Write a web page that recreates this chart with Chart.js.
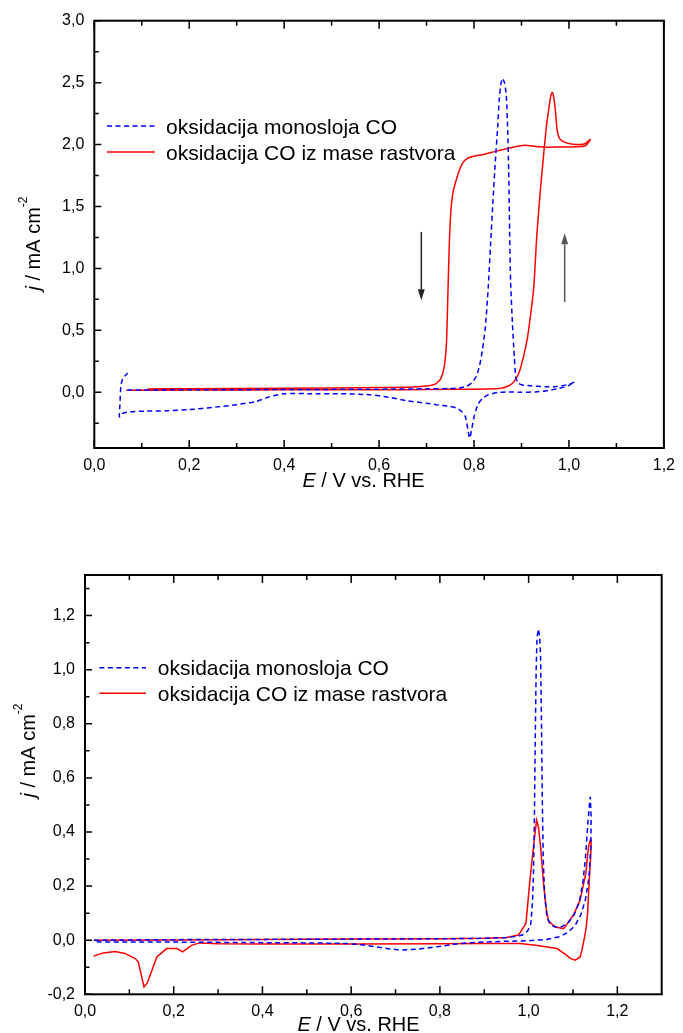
<!DOCTYPE html>
<html>
<head>
<meta charset="utf-8">
<script src="https://cdn.jsdelivr.net/npm/chart.js@4.4.1/dist/chart.umd.min.js"></script>
<style>
  html, body { margin: 0; padding: 0; background: #fff; }
  canvas { position: absolute; left: 0; }
  #top { top: 0; width: 683px; height: 545px; }
  #bottom { top: 545px; width: 683px; height: 488px; }
</style>
</head>
<body>
<canvas id="top" width="683" height="545"></canvas>
<canvas id="bottom" width="683" height="488"></canvas>
<script>
// series labels
const labelMono = "oksidacija monosloja CO";
const labelBulk = "oksidacija CO iz mase rastvora";

// upper panel, monolayer CO (dashed blue)
const topMonoE = [0.070, 0.200, 0.400, 0.600, 0.700, 0.750, 0.770, 0.785, 0.795, 0.805,
  0.812, 0.818, 0.824, 0.830, 0.835, 0.840, 0.845, 0.850, 0.853, 0.857,
  0.860, 0.864, 0.868, 0.871, 0.873, 0.875, 0.877, 0.881, 0.885, 0.888,
  0.893, 0.900, 0.920, 0.950, 0.975, 0.995, 1.005, 1.012,
  1.000, 0.977, 0.950, 0.930, 0.900, 0.873, 0.850, 0.830, 0.818, 0.808,
  0.800, 0.795, 0.791, 0.787, 0.782, 0.775, 0.765, 0.750, 0.720, 0.700,
  0.660, 0.620, 0.580, 0.520, 0.450, 0.400, 0.370, 0.340, 0.300, 0.255,
  0.200, 0.150, 0.110, 0.075, 0.060, 0.053, 0.054, 0.056, 0.060, 0.070];
const topMonoJ = [0.018, 0.020, 0.022, 0.025, 0.028, 0.030, 0.035, 0.050, 0.075, 0.130,
  0.220, 0.350, 0.530, 0.850, 1.200, 1.550, 1.870, 2.150, 2.360, 2.500,
  2.535, 2.500, 2.400, 2.100, 1.800, 1.300, 0.900, 0.550, 0.280, 0.120,
  0.075, 0.060, 0.052, 0.045, 0.047, 0.060, 0.072, 0.085,
  0.055, 0.030, 0.010, 0.003, 0.000, 0.003, -0.002, -0.020, -0.050, -0.100,
  -0.200, -0.300, -0.370, -0.300, -0.200, -0.160, -0.130, -0.115, -0.100, -0.088,
  -0.070, -0.040, -0.020, -0.012, -0.011, -0.012, -0.035, -0.075, -0.100, -0.120,
  -0.140, -0.150, -0.152, -0.158, -0.170, -0.200, -0.100, 0.050, 0.110, 0.155];

// upper panel, CO from bulk solution (solid red)
const topBulkE = [0.0675, 0.200, 0.400, 0.600, 0.700, 0.800, 0.840, 0.860, 0.875, 0.885,
  0.895, 0.905, 0.913, 0.920, 0.926, 0.932, 0.938, 0.945, 0.952, 0.958,
  0.962, 0.965, 0.968, 0.972, 0.975, 0.980, 0.990, 1.005, 1.025, 1.035, 1.045,
  1.035, 1.015, 0.980, 0.955, 0.930, 0.908, 0.890, 0.870, 0.845, 0.820,
  0.800, 0.787, 0.776, 0.768, 0.760, 0.755, 0.751, 0.748, 0.745, 0.742,
  0.737, 0.730, 0.720, 0.700, 0.670, 0.600, 0.400, 0.200, 0.1125];
const topBulkJ = [0.016, 0.018, 0.020, 0.020, 0.022, 0.025, 0.028, 0.035, 0.055, 0.090,
  0.160, 0.300, 0.450, 0.650, 0.850, 1.250, 1.550, 1.850, 2.130, 2.300,
  2.400, 2.420, 2.380, 2.250, 2.120, 2.050, 2.020, 2.005, 2.000, 2.010, 2.040,
  1.990, 1.982, 1.980, 1.978, 1.985, 1.995, 1.985, 1.968, 1.945, 1.920,
  1.905, 1.890, 1.850, 1.780, 1.680, 1.600, 1.450, 1.200, 0.800, 0.400,
  0.200, 0.110, 0.070, 0.050, 0.042, 0.038, 0.033, 0.029, 0.027];

// lower panel, monolayer CO
const botMonoE = [0.020, 0.200, 0.400, 0.600, 0.800, 0.900, 0.950, 0.975, 0.990, 0.998,
  1.005, 1.009, 1.011, 1.013, 1.015, 1.017, 1.019, 1.022, 1.025, 1.027,
  1.029, 1.031, 1.033, 1.036, 1.041, 1.048, 1.058, 1.072, 1.088, 1.103,
  1.114, 1.122, 1.128, 1.133, 1.137, 1.139,
  1.141, 1.140, 1.136, 1.128, 1.118, 1.105, 1.090, 1.070, 1.040, 1.000,
  0.950, 0.880, 0.840, 0.790, 0.750, 0.710, 0.670, 0.630, 0.590, 0.500,
  0.400, 0.300, 0.200, 0.100, 0.020];
const botMonoJ = [0.000, 0.002, 0.003, 0.004, 0.005, 0.007, 0.010, 0.014, 0.022, 0.035,
  0.060, 0.150, 0.250, 0.450, 0.750, 1.000, 1.120, 1.150, 1.120, 1.050,
  0.800, 0.500, 0.300, 0.170, 0.090, 0.060, 0.050, 0.048, 0.062, 0.095,
  0.140, 0.210, 0.300, 0.420, 0.500, 0.530,
  0.450, 0.340, 0.230, 0.150, 0.095, 0.055, 0.030, 0.013, 0.003, -0.002,
  -0.004, -0.008, -0.013, -0.025, -0.033, -0.037, -0.028, -0.018, -0.012, -0.010,
  -0.009, -0.008, -0.007, -0.007, -0.006];

// lower panel, CO from bulk solution
const botBulkE = [0.020, 0.200, 0.400, 0.600, 0.800, 0.900, 0.950, 0.977, 0.994, 1.003,
  1.011, 1.018, 1.022, 1.027, 1.033, 1.039, 1.045, 1.060, 1.079, 1.101,
  1.116, 1.129, 1.135, 1.139,
  1.141, 1.140, 1.136, 1.133, 1.130, 1.127, 1.121, 1.116, 1.105, 1.095,
  1.086, 1.064, 1.020, 0.981, 0.900, 0.800, 0.600, 0.400, 0.300, 0.259,
  0.240, 0.220, 0.207, 0.184, 0.162, 0.140, 0.133, 0.120, 0.113, 0.090,
  0.068, 0.041, 0.019];
const botBulkJ = [0.000, 0.001, 0.003, 0.004, 0.005, 0.007, 0.010, 0.019, 0.062, 0.222,
  0.346, 0.444, 0.420, 0.346, 0.222, 0.123, 0.071, 0.049, 0.043, 0.093,
  0.148, 0.247, 0.346, 0.370,
  0.370, 0.310, 0.200, 0.100, 0.050, 0.019, -0.030, -0.062, -0.074, -0.068,
  -0.056, -0.031, -0.020, -0.012, -0.012, -0.013, -0.014, -0.014, -0.013, -0.010,
  -0.019, -0.043, -0.031, -0.031, -0.062, -0.160, -0.173, -0.080, -0.068, -0.049,
  -0.042, -0.047, -0.059];

// tick values
const topXTicks = [0, 0.2, 0.4, 0.6, 0.8, 1.0, 1.2];
const topYTicks = [0, 0.5, 1.0, 1.5, 2.0, 2.5, 3.0];
const botXTicks = [0, 0.2, 0.4, 0.6, 0.8, 1.0, 1.2];
const botYTicks = [-0.2, 0, 0.2, 0.4, 0.6, 0.8, 1.0, 1.2];

// scan direction arrows in upper panel (E, from j, to j)
const arrowE = [0.689, 0.991];
const arrowFromJ = [1.295, 0.729];
const arrowToJ = [0.743, 1.284];

const FONT = '"Liberation Sans", Arial, Helvetica, sans-serif';
const fmt = v => Number(v).toFixed(1).replace('.', ',');
const pts = (E, J) => E.map((e, i) => ({ x: e, y: J[i] }));

function minors(major, lo, hi) {
  const step = major[1] - major[0];
  const out = [major[0] - step / 2];
  major.forEach(v => out.push(v + step / 2));
  return out.filter(v => v > lo + 1e-9 && v < hi - 1e-9);
}

function drawParts(ctx, parts, x, y) {
  parts.forEach(p => { ctx.font = p.font; p.w = ctx.measureText(p.t).width; });
  const total = parts.reduce((s, p) => s + p.w, 0);
  let cx = x - total / 2;
  parts.forEach(p => { ctx.font = p.font; ctx.fillText(p.t, cx, y + (p.dy || 0)); cx += p.w; });
}

function drawArrow(ctx, x, y0, y1, color) {
  const dir = Math.sign(y1 - y0), head = 11, half = 3.5;
  ctx.strokeStyle = color; ctx.fillStyle = color; ctx.lineWidth = 1.5;
  ctx.beginPath(); ctx.moveTo(x, y0); ctx.lineTo(x, y1 - dir * head); ctx.stroke();
  ctx.beginPath(); ctx.moveTo(x, y1);
  ctx.lineTo(x - half, y1 - dir * head); ctx.lineTo(x + half, y1 - dir * head);
  ctx.closePath(); ctx.fill();
}

// frame, inward ticks, legend, axis titles, arrows
const framePlugin = {
  id: 'frame',
  afterDatasetsDraw(chart, args, o) {
    const { ctx, chartArea: a } = chart;
    const xs = chart.scales.x, ys = chart.scales.y;
    ctx.save();
    ctx.setLineDash([]);
    ctx.strokeStyle = '#000';
    ctx.lineWidth = 2;
    ctx.strokeRect(a.left, a.top, a.right - a.left, a.bottom - a.top);

    ctx.lineWidth = 1.5;
    ctx.beginPath();
    const xt = (v, len) => {
      const p = xs.getPixelForValue(v);
      ctx.moveTo(p, a.bottom); ctx.lineTo(p, a.bottom - len);
      ctx.moveTo(p, a.top); ctx.lineTo(p, a.top + len);
    };
    const yt = (v, len) => {
      const p = ys.getPixelForValue(v);
      ctx.moveTo(a.left, p); ctx.lineTo(a.left + len, p);
    };
    o.xTicks.forEach(v => xt(v, 8));
    minors(o.xTicks, xs.min, xs.max).forEach(v => xt(v, 5));
    o.yTicks.forEach(v => yt(v, 7));
    minors(o.yTicks, ys.min, ys.max).forEach(v => yt(v, 4.5));
    ctx.stroke();

    if (o.arrows) {
      arrowE.forEach((e, i) => {
        drawArrow(ctx, xs.getPixelForValue(e), ys.getPixelForValue(arrowFromJ[i]),
          ys.getPixelForValue(arrowToJ[i]), i === 0 ? '#222' : '#555');
      });
    }

    // legend
    const lg = o.legend;
    chart.data.datasets.forEach((ds, i) => {
      const y = lg.y[i];
      ctx.strokeStyle = ds.borderColor;
      ctx.lineWidth = ds.borderWidth;
      ctx.setLineDash(ds.borderDash || []);
      ctx.beginPath(); ctx.moveTo(lg.x0, y); ctx.lineTo(lg.x1, y); ctx.stroke();
      ctx.setLineDash([]);
      ctx.fillStyle = '#000';
      ctx.font = '21px ' + FONT;
      ctx.textAlign = 'left';
      ctx.textBaseline = 'alphabetic';
      ctx.fillText(ds.label, lg.tx, y + 7.5);
    });

    // axis titles
    ctx.fillStyle = '#000';
    ctx.textAlign = 'left';
    ctx.textBaseline = 'alphabetic';
    drawParts(ctx, [
      { t: 'E', font: 'italic 20px ' + FONT },
      { t: ' / V vs. RHE', font: '20px ' + FONT }
    ], o.xTitle.x, o.xTitle.y);
    ctx.translate(o.yTitle.x, o.yTitle.y);
    ctx.rotate(-Math.PI / 2);
    drawParts(ctx, [
      { t: 'j', font: 'italic 20px ' + FONT },
      { t: ' / mA cm', font: '20px ' + FONT },
      { t: '-2', font: '12px ' + FONT, dy: -13 }
    ], 0, 0);
    ctx.restore();
  }
};

function makePanel(id, p) {
  const W = 683, H = p.height;
  const tickFont = { family: FONT, size: 16 };
  new Chart(document.getElementById(id), {
    type: 'scatter',
    data: {
      datasets: [
        { label: labelMono, data: p.mono, showLine: true, borderColor: '#0000ff', borderWidth: 1.5,
          borderDash: [5, 3.5], pointRadius: 0, tension: p.tension, fill: false },
        { label: labelBulk, data: p.bulk, showLine: true, borderColor: '#ff0000', borderWidth: 1.5,
          pointRadius: 0, tension: p.tension, fill: false }
      ]
    },
    options: {
      responsive: false,
      animation: false,
      events: [],
      layout: { padding: { left: 0, top: p.area.top, right: W - p.area.right, bottom: 0 } },
      scales: {
        x: {
          type: 'linear', min: p.xMin, max: p.xMax,
          grid: { display: false, drawTicks: false }, border: { display: false },
          afterBuildTicks: s => { s.ticks = p.xTicks.map(v => ({ value: v })); },
          afterFit: s => { s.height = H - p.area.bottom; },
          ticks: { font: tickFont, color: '#000', padding: 8, maxRotation: 0, autoSkip: false, callback: fmt }
        },
        y: {
          type: 'linear', min: p.yMin, max: p.yMax,
          grid: { display: false, drawTicks: false }, border: { display: false },
          afterBuildTicks: s => { s.ticks = p.yTicks.map(v => ({ value: v })); },
          afterFit: s => { s.width = p.area.left; },
          ticks: { font: tickFont, color: '#000', padding: 10, autoSkip: false, callback: fmt }
        }
      },
      plugins: {
        legend: { display: false },
        tooltip: { enabled: false },
        frame: {
          xTicks: p.xTicks, yTicks: p.yTicks, arrows: p.arrows,
          legend: p.legend, xTitle: p.xTitle, yTitle: p.yTitle
        }
      }
    },
    plugins: [framePlugin]
  });
}

makePanel('top', {
  height: 545,
  area: { left: 94.3, top: 20.7, right: 670.3, bottom: 448 },
  xMin: 0, xMax: 1.2, yMin: -0.45, yMax: 3.0,
  xTicks: topXTicks, yTicks: topYTicks,
  mono: pts(topMonoE, topMonoJ), bulk: pts(topBulkE, topBulkJ),
  tension: 0.2, arrows: true,
  legend: { x0: 107, x1: 155, tx: 166, y: [126, 152] },
  xTitle: { x: 363.5, y: 487 },
  yTitle: { x: 40, y: 243.5 }
});

makePanel('bottom', {
  height: 488,
  area: { left: 85, top: 30, right: 661.7, bottom: 449.3 },
  xMin: 0, xMax: 1.3, yMin: -0.2, yMax: 1.35,
  xTicks: botXTicks, yTicks: botYTicks,
  mono: pts(botMonoE, botMonoJ), bulk: pts(botBulkE, botBulkJ),
  tension: 0, arrows: false,
  legend: { x0: 99.4, x1: 146, tx: 157.8, y: [122.7, 148.3] },
  xTitle: { x: 358.5, y: 486 },
  yTitle: { x: 35, y: 205.5 }
});
</script>
</body>
</html>
